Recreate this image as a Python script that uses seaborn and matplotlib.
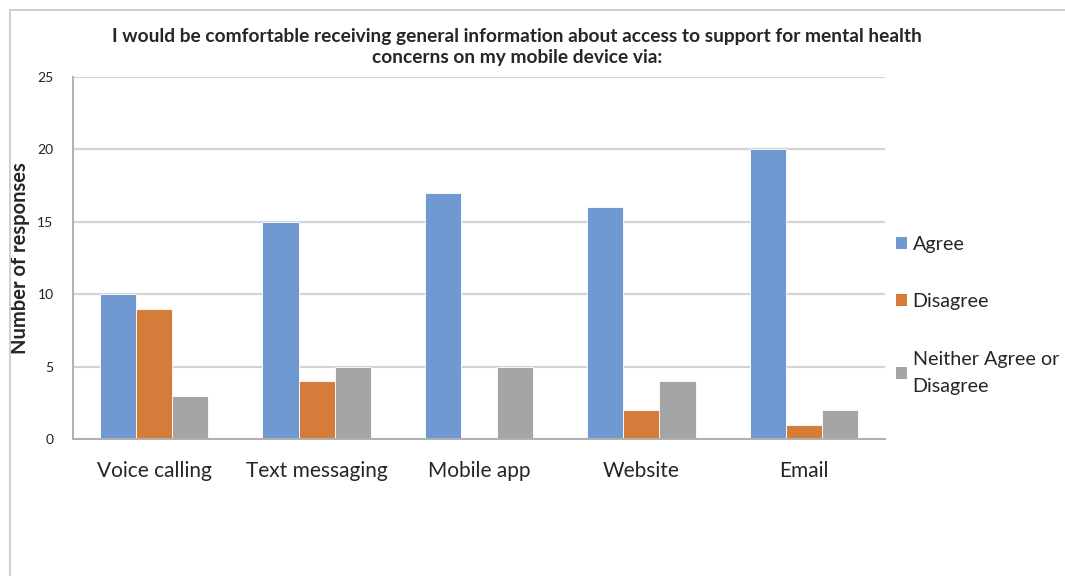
import matplotlib
matplotlib.use("Agg")
import matplotlib.pyplot as plt
import seaborn as sns
import pandas as pd
from matplotlib.lines import Line2D
from matplotlib.patches import Patch

categories = ["Voice calling", "Text messaging", "Mobile app", "Website", "Email"]
series = ["Agree", "Disagree", "Neither Agree or\nDisagree"]
agree = [10, 15, 17, 16, 20]
disagree = [9, 4, 0, 2, 1]
neither = [3, 5, 5, 4, 2]
colors = ["#7099d1", "#d67c3a", "#a5a5a5"]
title = ("I would be comfortable receiving general information about access to support for mental health\n"
         "concerns on my mobile device via:")

rows = []
for s, vals in zip(series, [agree, disagree, neither]):
    for c, v in zip(categories, vals):
        rows.append({"category": c, "series": s, "value": v})
df = pd.DataFrame(rows)

sns.set_style("white")
plt.rcParams["font.family"] = ["Lato", "DejaVu Sans"]

fig = plt.figure(figsize=(10.65, 5.76), dpi=100)
ax = fig.add_axes([73/1065, 1-439/576, (885-73)/1065, (439-77)/576])

sns.barplot(data=df, x="category", y="value", hue="series", order=categories,
            hue_order=series, palette=colors, width=0.667, ax=ax, legend=False,
            saturation=1, edgecolor="white", linewidth=0.6)

ax.set_xlim(-0.5, 4.5)
ax.set_ylim(0, 25)
ax.set_yticks([0, 5, 10, 15, 20, 25])
ax.yaxis.grid(True, color="#d4d4d4", linewidth=1.6)
ax.set_axisbelow(True)
for sp in ["top", "right"]:
    ax.spines[sp].set_visible(False)
for sp in ["left", "bottom"]:
    ax.spines[sp].set_color("#b0b0b0")
    ax.spines[sp].set_linewidth(1.4)

ax.tick_params(axis="y", length=6, width=1.2, color="#b0b0b0", labelsize=10, pad=8, direction="out")
ax.tick_params(axis="x", which="major", length=0, labelsize=15, pad=16)
ax.set_xticks([i - 0.5 for i in range(len(categories) + 1)], minor=True)
ax.tick_params(axis="x", which="minor", length=7, width=1.2, color="#b0b0b0", direction="out")
for lbl in ax.get_yticklabels():
    lbl.set_color("#222222")

ax.set_xlabel("")
ax.set_ylabel("Number of responses", fontsize=14.5, fontweight="bold")
ax.yaxis.set_label_coords((30 - 73) / (885 - 73), (439 - 258) / (439 - 77))

fig.text(517/1065, 1-47/576, title, ha="center", va="center", fontsize=13.8,
         fontweight="bold", linespacing=1.3)

handles = [Patch(facecolor=c, edgecolor="none") for c in colors]
leg = fig.legend(handles, series, loc="upper left", bbox_to_anchor=(888/1065, 1-228/576),
                 frameon=False, fontsize=14.2, handlelength=0.55, handleheight=0.55,
                 handletextpad=0.3, labelspacing=2.05, borderaxespad=0)
for t in leg.get_texts():
    t.set_linespacing(1.7)

fig.add_artist(Line2D([10/1065, 1], [1-10/576, 1-10/576], color="#cfcfcf", linewidth=1.4))
fig.add_artist(Line2D([10/1065, 10/1065], [0, 1-10/576], color="#cfcfcf", linewidth=1.4))

fig.savefig("out.png", dpi=100)
